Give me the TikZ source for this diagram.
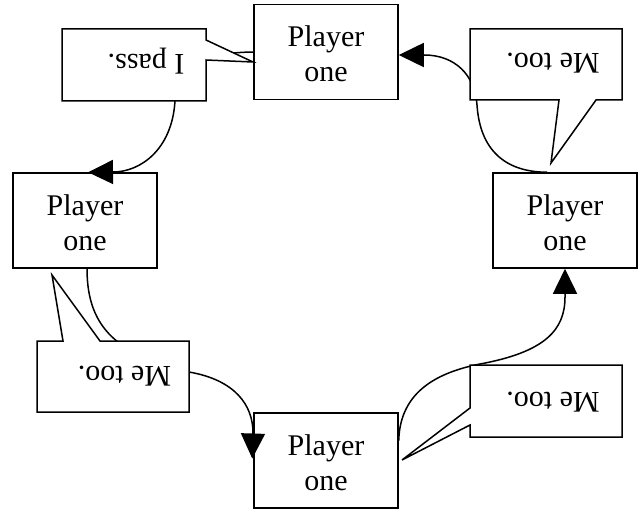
\documentclass[tikz,border=0pt]{standalone}
\usepackage{fontspec}
\setmainfont{Liberation Serif}
\usetikzlibrary{arrows.meta,calc}
\begin{document}
\begin{tikzpicture}[x=1bp,y=-1bp,
  lw/.style={line width=1.5bp},
  player/.style={draw,lw,minimum width=144bp,minimum height=95bp,inner sep=0pt,align=center,font=\fontsize{30bp}{35bp}\selectfont},
  bubble/.style={draw,lw,fill=white,line join=miter},
  saying/.style={rotate=180,inner sep=0pt,font=\fontsize{30bp}{35bp}\selectfont},
  link/.style={draw,lw,-{Triangle[length=25bp,width=24bp]}},
]
\useasboundingbox (0,0) rectangle (644,509);

% players
\node[player] (T) at (326,52) {\rule{0pt}{24.5bp}Player\\one};
\node[player] (L) at (85,220.5) {\rule{0pt}{24.5bp}Player\\one};
\node[player] (R) at (565,220.5) {\rule{0pt}{24.5bp}Player\\one};
\node[player] (B) at (326,460.5) {\rule{0pt}{24.5bp}Player\\one};

% connectors
\draw[link] ($(R.north)+(-18,0)$) .. controls (505,172) and (480,150) .. (477,105)
  .. controls (475,75) and (455,55) .. (424,55) -- ($(T.east)+(0,3)$);
\draw[link] (T.west) .. controls (180,53) and (178,80) .. (175,101)
  .. controls (172,150) and (140,172) .. (113,172) -- ($(L.north)+(3,0)$);
\draw[link] ($(L.south)+(2,0)$) .. controls (87,330) and (120,355) .. (189,372)
  .. controls (235,380) and (253,405) .. (253,433) -- ($(B.west)+(-1,-2)$);
\draw[link] ($(B.east)+(0,-20)$) .. controls (400,390) and (440,372) .. (480,364)
  .. controls (545,352) and (565,330) .. (565,297) -- (R.south);

% speech bubbles
\draw[bubble] (62,29) -- (206,29) -- (206,40) -- (253,62) -- (206,60) -- (206,101) -- (62,101) -- cycle;
\node[saying] (s1) at (146,61.5) {I pass.};

\draw[bubble] (470,29) -- (622,29) -- (622,100) -- (596,100) -- (551,163) -- (559,100) -- (470,100) -- cycle;
\node[saying] (s2) at (553,63.5) {Me too.};

\draw[bubble] (37,341) -- (63,341) -- (52,275) -- (100,341) -- (189,341) -- (189,412) -- (37,412) -- cycle;
\node[saying] (s3) at (124.5,376) {Me too.};

\draw[bubble] (470,365) -- (622,365) -- (622,437) -- (470,437) -- (470,425) -- (402,460) -- (470,408) -- cycle;
\node[saying] (s4) at (553,402) {Me too.};
\end{tikzpicture}
\end{document}
